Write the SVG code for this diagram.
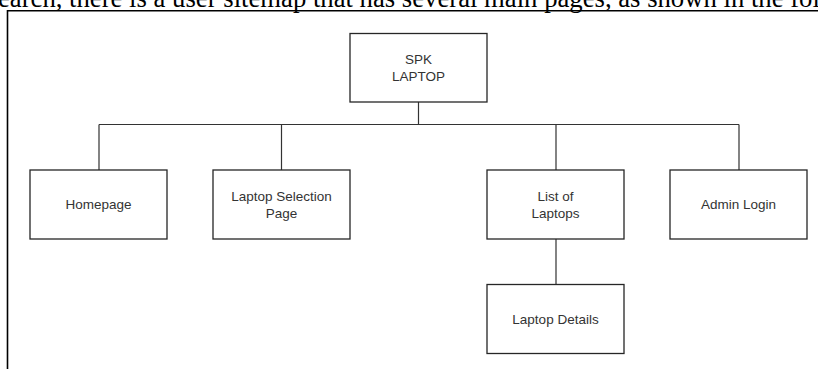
<svg xmlns="http://www.w3.org/2000/svg" width="818" height="369" viewBox="0 0 818 369">
<style>
.box{fill:#fff;stroke:#262626;stroke-width:1.3}
.lbl{font-family:"Liberation Sans",Arial,sans-serif;font-size:13.5px;fill:#333;text-anchor:middle}
.conn{fill:none;stroke:#333;stroke-width:1.2}
.cap{font-family:"Liberation Serif","Times New Roman",serif;font-size:26.7px;fill:#000}
</style>
<rect x="0" y="0" width="818" height="369" fill="#fff"/>
<text class="cap" x="-2" y="6.5">earch, there is a user sitemap that has several main pages, as shown in the fol</text>
<path d="M7.5 369 V10.8 H818" fill="none" stroke="#000" stroke-width="1.6"/>
<g id="connectors">
<path class="conn" d="M418.5 102 V124.5 M99 124.5 H739 M99 124.5 V170 M281.5 124.5 V170 M556 124.5 V170 M739 124.5 V170 M556 239 V284"/>
</g>
<g id="spk"><rect class="box" x="350" y="33.5" width="137" height="68.5"/><text class="lbl" x="418.5" y="63.5">SPK</text><text class="lbl" x="418.5" y="81">LAPTOP</text></g>
<g id="homepage"><rect class="box" x="30" y="170" width="137" height="69"/><text class="lbl" x="98.5" y="209">Homepage</text></g>
<g id="selection"><rect class="box" x="213" y="170" width="137" height="69"/><text class="lbl" x="281.5" y="200.5">Laptop Selection</text><text class="lbl" x="281.5" y="217.5">Page</text></g>
<g id="list"><rect class="box" x="487" y="170" width="137" height="69"/><text class="lbl" x="555.5" y="200.5">List of</text><text class="lbl" x="555.5" y="217.5">Laptops</text></g>
<g id="admin"><rect class="box" x="670" y="170" width="137" height="69"/><text class="lbl" x="738.5" y="209">Admin Login</text></g>
<g id="details"><rect class="box" x="487" y="284.5" width="137" height="69"/><text class="lbl" x="555.5" y="323.5">Laptop Details</text></g>
</svg>
